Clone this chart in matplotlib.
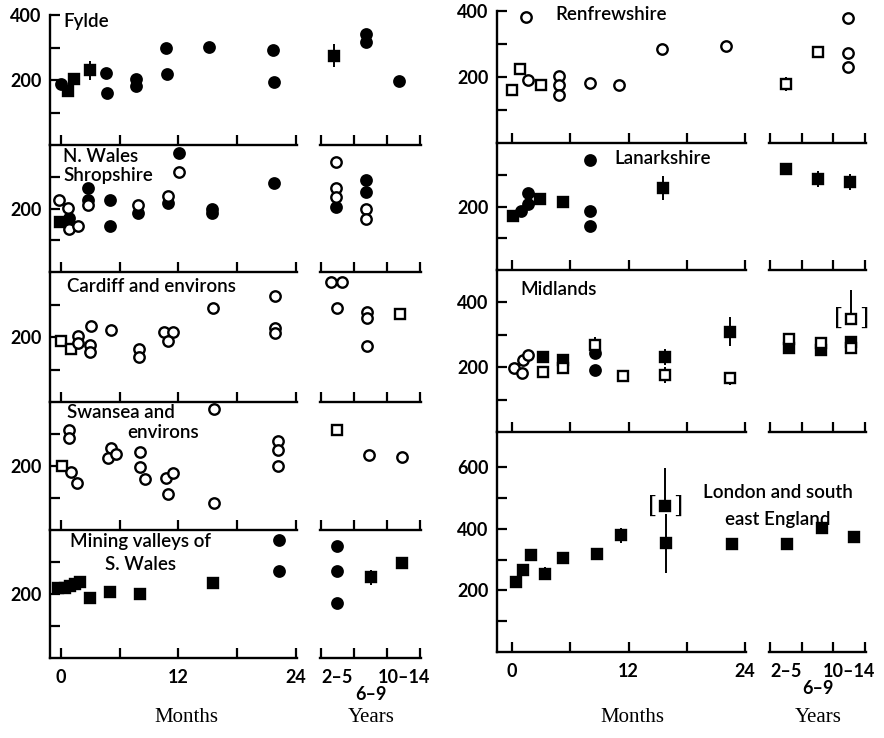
import matplotlib.pyplot as plt

W, H = 884, 738
plt.rcParams['font.family'] = ['Lato', 'DejaVu Sans']

month_ticks = [0, 6, 12, 18, 24]
year_groups = ['2–5', '6–9', '10–14']

# ---- Fylde (months: x = age in months, years: x = group index 0,1,2)
fylde_fc_x = [0, 4.6, 4.7, 7.7, 7.7, 10.7, 10.8, 15.1, 21.6, 21.8]
fylde_fc_y = [188, 221, 160, 203, 182, 297, 218, 303, 293, 195]
fylde_fs_x = [0.7, 1.3, 3.0]
fylde_fs_y = [167, 203, 230]
fylde_fs_e = [0, 12, 30]
fylde_yr_fc_x = [0.85, 0.85, 1.85]
fylde_yr_fc_y = [341, 318, 197]
fylde_yr_fs_x = [-0.1]
fylde_yr_fs_y = [275]
fylde_yr_fs_e = [36]

# ---- N. Wales / Shropshire
nwales_fc_x = [12.1, 2.8, 2.8, 5.0, 5.0, 7.9, 10.9, 15.4, 15.4, 21.8, 0.8]
nwales_fc_y = [375, 263, 227, 228, 146, 187, 216, 200, 187, 279, 171]
nwales_oc_x = [12.1, 2.8, 7.9, 10.9, -0.2, 0.7, 0.8, 1.7]
nwales_oc_y = [314, 210, 210, 238, 228, 203, 137, 146]
nwales_fs_x = [-0.1]
nwales_fs_y = [159]
nwales_yr_fc_x = [-0.05, 0.87, 0.87]
nwales_yr_fc_y = [206, 289, 251]
nwales_yr_oc_x = [-0.05, -0.05, -0.05, 0.87, 0.87]
nwales_yr_oc_y = [346, 263, 235, 197, 168]

# ---- Cardiff and environs
cardiff_os_x = [0, 1.0]
cardiff_os_y = [189, 162]
cardiff_oc_x = [1.7, 1.7, 3.1, 3.0, 3.0, 5.1, 8.0, 8.0, 10.5, 11.4, 10.9, 15.5, 21.9, 21.9, 21.9]
cardiff_oc_y = [202, 183, 233, 174, 155, 223, 164, 140, 214, 214, 189, 288, 325, 229, 211]
cardiff_yr_oc_x = [-0.2, 0.15, 0, 0.9, 0.9, 0.9]
cardiff_yr_oc_y = [368, 368, 288, 278, 257, 171]
cardiff_yr_os_x = [1.9]
cardiff_yr_os_y = [272]
cardiff_yr_os_e = [10]

# ---- Swansea and environs
swansea_os_x = [0.1]
swansea_os_y = [200]
swansea_oc_x = [0.8, 0.8, 1.0, 1.6, 5.1, 4.8, 5.6, 8.1, 8.1, 8.6, 10.7, 11.4, 10.9,
                15.6, 15.6, 22.2, 22.2, 22.2]
swansea_oc_y = [311, 286, 182, 148, 255, 225, 237, 243, 197, 160, 163, 178, 114,
                379, 83, 277, 249, 200]
swansea_yr_os_x = [0]
swansea_yr_os_y = [314]
swansea_yr_os_e = [12]
swansea_yr_oc_x = [0.95, 1.95]
swansea_yr_oc_y = [234, 228]

# ---- Mining valleys of S. Wales
mining_fs_x = [-0.3, 0.4, 0.9, 1.4, 1.9, 3.0, 5.0, 8.1, 15.5]
mining_fs_y = [218, 218, 225, 231, 237, 188, 206, 200, 234]
mining_fs_e = [0, 0, 0, 0, 0, 15, 10, 10, 15]
mining_fc_x = [22.3, 22.3]
mining_fc_y = [369, 271]
mining_yr_fc_x = [0, 0, 0]
mining_yr_fc_y = [351, 271, 172]
mining_yr_fs_x = [1.0, 1.95]
mining_yr_fs_y = [252, 298]
mining_yr_fs_e = [23, 12]

# ---- Renfrewshire
renf_os_x = [0, 0.8, 3.0]
renf_os_y = [161, 224, 176]
renf_os_e = [0, 12, 10]
renf_oc_x = [1.4, 1.6, 4.8, 4.8, 4.8, 8.0, 11.0, 15.4, 22.0]
renf_oc_y = [382, 191, 203, 176, 145, 182, 176, 284, 294]
renf_yr_os_x = [0, 1.0]
renf_yr_os_y = [179, 276]
renf_yr_os_e = [20, 15]
renf_yr_oc_x = [1.97, 1.97, 1.97]
renf_yr_oc_y = [379, 273, 230]

# ---- Lanarkshire
lanark_fs_x = [0.1, 2.9, 5.2, 15.6]
lanark_fs_y = [169, 225, 215, 258]
lanark_fs_e = [0, 10, 0, 38]
lanark_fc_x = [0.9, 1.6, 1.6, 8.0, 8.0, 8.0]
lanark_fc_y = [185, 243, 209, 348, 185, 138]
lanark_yr_fs_x = [0, 1.03, 2.03]
lanark_yr_fs_y = [317, 286, 277]
lanark_yr_fs_e = [12, 25, 25]

# ---- Midlands
mid_oc_x = [0.2, 1.0, 1.1, 1.6]
mid_oc_y = [197, 181, 222, 237]
mid_fs_x = [3.2, 5.3, 15.8, 22.5]
mid_fs_y = [231, 222, 231, 309]
mid_fs_e = [8, 5, 25, 45]
mid_fc_x = [8.5, 8.5]
mid_fc_y = [244, 191]
mid_os_x = [3.2, 5.3, 8.5, 11.4, 15.8, 22.5]
mid_os_y = [184, 197, 269, 172, 175, 166]
mid_os_e = [12, 0, 25, 12, 25, 20]
mid_yr_fs_x = [0.1, 1.1, 2.05]
mid_yr_fs_y = [259, 253, 278]
mid_yr_fs_e = [15, 15, 15]
mid_yr_os_x = [0.1, 1.1, 2.05]
mid_yr_os_y = [288, 275, 259]
mid_yr_os_e = [15, 15, 15]
mid_yr_br_x = [2.05]
mid_yr_br_y = [350]
mid_yr_br_up = [87]

# ---- London and south east England
london_fs_x = [0.4, 1.1, 2.0, 3.4, 5.3, 8.8, 11.2, 15.9, 22.7]
london_fs_y = [226, 268, 314, 255, 307, 320, 379, 353, 350]
london_fs_e = [0, 0, 12, 20, 15, 0, 25, 95, 10]
london_br_x = [15.8]
london_br_y = [474]
london_br_up = [123]
london_yr_fs_x = [0.05, 1.15, 2.15]
london_yr_fs_y = [350, 402, 373]
london_yr_fs_e = [15, 20, 15]


fig = plt.figure(figsize=(W / 100, H / 100), dpi=100)


def px(x0, y0, x1, y1):
    return [x0 / W, 1 - y1 / H, (x1 - x0) / W, (y1 - y0) / H]


LEFT = {'m': (50, 297), 'mlim': (-1.12, 24.1), 'y': (320, 421)}
RIGHT = {'m': (497, 746), 'mlim': (-1.55, 24.1), 'y': (769, 866)}


def style(ax, ymax):
    ax.set_ylim(0, ymax)
    ax.patch.set_alpha(0)
    for s in ['top', 'right']:
        ax.spines[s].set_visible(False)
    for s in ['bottom', 'left']:
        ax.spines[s].set_linewidth(1.7)
    ax.tick_params(which='both', direction='in', length=7, width=1.6, labelsize=13,
                   pad=6, labelcolor='black')
    for lab in (ax.get_xticklabels() + ax.get_yticklabels()
                + ax.get_xticklabels(minor=True)):
        lab.set_fontweight('bold')


def panel(col, top, bot, ymax, yticks, ylabels, bottom=False):
    m = fig.add_axes(px(col['m'][0], top, col['m'][1], bot))
    yr = fig.add_axes(px(col['y'][0], top, col['y'][1], bot))
    m.set_xlim(*col['mlim'])
    m.set_xticks(month_ticks, [str(t) if bottom and t % 12 == 0 else '' for t in month_ticks])
    m.set_yticks(yticks, [str(t) if t in ylabels else '' for t in yticks])
    yr.set_xlim(-0.52, 2.52)
    yr.set_xticks([-0.5, 0.5, 1.5, 2.5], [])
    yr.set_yticks([])
    yr.spines['left'].set_visible(False)
    if bottom:
        # outer groups on the first line, middle group one line lower
        yr.set_xticks([0, 2], [year_groups[0], year_groups[2]], minor=True)
        yr.annotate(year_groups[1], xy=(1, 0), xycoords=('data', 'axes fraction'),
                    xytext=(0, -26), textcoords='offset points', ha='center',
                    va='center', fontsize=13, fontweight='bold', annotation_clip=False)
    style(m, ymax)
    style(yr, ymax)
    yr.tick_params(axis='x', which='minor', length=0, pad=8)
    m.tick_params(axis='x', pad=8)
    return m, yr


def dots(ax, x, y, marker, filled, err=None):
    ms = 7.5 if marker == 'o' else 6.5
    if err is not None:
        ax.errorbar(x, y, yerr=err, fmt='none', ecolor='black', elinewidth=1.4, zorder=2)
    ax.plot(x, y, marker, ls='none', ms=ms, mfc='black' if filled else 'white',
            mec='black', mew=1.7, zorder=3, clip_on=False)


def bracketed(ax, x, y, up, filled):
    ax.errorbar(x, y, yerr=[[0] * len(up), up], fmt='none', ecolor='black',
                elinewidth=1.4, zorder=2)
    dots(ax, x, y, 's', filled)
    for xi, yi in zip(x, y):
        for ch, dx in (('[', -9), (']', 9)):
            ax.annotate(ch, (xi, yi), xytext=(dx, 0), textcoords='offset points',
                        ha='center', va='center', fontsize=17, family='DejaVu Serif')


def label(x, y, s, ha='left', **kw):
    fig.text(x / W, 1 - y / H, s, ha=ha, va='center', **kw)


t_kw = dict(fontsize=13.5, fontweight='semibold')

# ---------------- left column
m, yr = panel(LEFT, 15, 145, 400, [100, 200, 300, 400], [200, 400])
dots(m, fylde_fc_x, fylde_fc_y, 'o', True)
dots(m, fylde_fs_x, fylde_fs_y, 's', True, fylde_fs_e)
dots(yr, fylde_yr_fc_x, fylde_yr_fc_y, 'o', True)
dots(yr, fylde_yr_fs_x, fylde_yr_fs_y, 's', True, fylde_yr_fs_e)
label(63, 21, 'Fylde', **t_kw)

m, yr = panel(LEFT, 145, 272, 400, [100, 200, 300], [200])
dots(m, nwales_fc_x, nwales_fc_y, 'o', True)
dots(m, nwales_oc_x, nwales_oc_y, 'o', False)
dots(m, nwales_fs_x, nwales_fs_y, 's', True)
dots(yr, nwales_yr_fc_x, nwales_yr_fc_y, 'o', True)
dots(yr, nwales_yr_oc_x, nwales_yr_oc_y, 'o', False)
label(63, 156, 'N. Wales', **t_kw)
label(63, 175, 'Shropshire', **t_kw)

m, yr = panel(LEFT, 272, 402, 400, [100, 200, 300], [200])
dots(m, cardiff_os_x, cardiff_os_y, 's', False)
dots(m, cardiff_oc_x, cardiff_oc_y, 'o', False)
dots(yr, cardiff_yr_oc_x, cardiff_yr_oc_y, 'o', False)
dots(yr, cardiff_yr_os_x, cardiff_yr_os_y, 's', False, cardiff_yr_os_e)
label(67, 287, 'Cardiff and environs', **t_kw)

m, yr = panel(LEFT, 402, 530, 400, [100, 200, 300], [200])
dots(m, swansea_os_x, swansea_os_y, 's', False)
dots(m, swansea_oc_x, swansea_oc_y, 'o', False)
dots(yr, swansea_yr_os_x, swansea_yr_os_y, 's', False, swansea_yr_os_e)
dots(yr, swansea_yr_oc_x, swansea_yr_oc_y, 'o', False)
label(67, 413, 'Swansea and', **t_kw)
label(127, 432, 'environs', **t_kw)

m, yr = panel(LEFT, 530, 658, 400, [100, 200, 300], [200], bottom=True)
dots(m, mining_fs_x, mining_fs_y, 's', True, mining_fs_e)
dots(m, mining_fc_x, mining_fc_y, 'o', True)
dots(yr, mining_yr_fc_x, mining_yr_fc_y, 'o', True)
dots(yr, mining_yr_fs_x, mining_yr_fs_y, 's', True, mining_yr_fs_e)
label(70, 542, 'Mining valleys of', **t_kw)
label(105, 564, 'S. Wales', **t_kw)

# ---------------- right column
m, yr = panel(RIGHT, 11, 143, 400, [100, 200, 300, 400], [200, 400])
dots(m, renf_os_x, renf_os_y, 's', False, renf_os_e)
dots(m, renf_oc_x, renf_oc_y, 'o', False)
dots(yr, renf_yr_os_x, renf_yr_os_y, 's', False, renf_yr_os_e)
dots(yr, renf_yr_oc_x, renf_yr_oc_y, 'o', False)
label(555, 14, 'Renfrewshire', **t_kw)

m, yr = panel(RIGHT, 143, 270, 400, [100, 200, 300], [200])
dots(m, lanark_fs_x, lanark_fs_y, 's', True, lanark_fs_e)
dots(m, lanark_fc_x, lanark_fc_y, 'o', True)
dots(yr, lanark_yr_fs_x, lanark_yr_fs_y, 's', True, lanark_yr_fs_e)
label(614, 159, 'Lanarkshire', **t_kw)

m, yr = panel(RIGHT, 270, 432, 500, [100, 200, 300, 400], [200, 400])
dots(m, mid_oc_x, mid_oc_y, 'o', False)
dots(m, mid_fs_x, mid_fs_y, 's', True, mid_fs_e)
dots(m, mid_fc_x, mid_fc_y, 'o', True)
dots(m, mid_os_x, mid_os_y, 's', False, mid_os_e)
dots(yr, mid_yr_fs_x, mid_yr_fs_y, 's', True, mid_yr_fs_e)
dots(yr, mid_yr_os_x, mid_yr_os_y, 's', False, mid_yr_os_e)
bracketed(yr, mid_yr_br_x, mid_yr_br_y, mid_yr_br_up, False)
label(520, 289, 'Midlands', **t_kw)

m, yr = panel(RIGHT, 432, 652, 715, [100, 200, 300, 400, 500, 600], [200, 400, 600], bottom=True)
dots(m, london_fs_x, london_fs_y, 's', True, london_fs_e)
bracketed(m, london_br_x, london_br_y, london_br_up, True)
dots(yr, london_yr_fs_x, london_yr_fs_y, 's', True, london_yr_fs_e)
label(778, 492, 'London and south', ha='center', **t_kw)
label(778, 519, 'east England', ha='center', **t_kw)

# axis titles under each column
x_kw = dict(fontsize=15, family=['Liberation Serif', 'DejaVu Serif'])
label(186, 718, 'Months', ha='center', **x_kw)
label(371, 718, 'Years', ha='center', **x_kw)
label(632, 718, 'Months', ha='center', **x_kw)
label(818, 718, 'Years', ha='center', **x_kw)

fig.savefig('out.png', dpi=100, facecolor='white')
